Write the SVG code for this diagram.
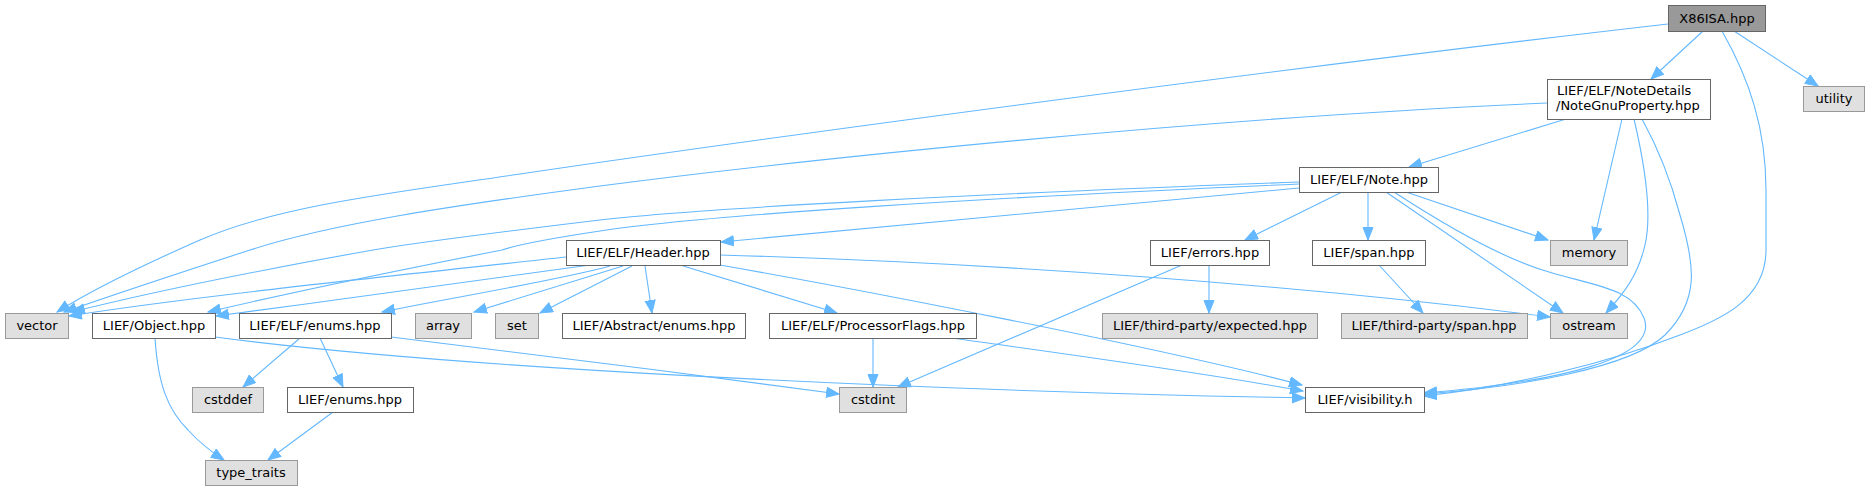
<svg xmlns="http://www.w3.org/2000/svg" width="1869" height="491" viewBox="0 0 1869 491">
<defs>
<style>
.n rect{fill:#ffffff;stroke:#666666;stroke-width:1}
.g rect{fill:#E0E0E0;stroke:#999999;stroke-width:1}
.r rect{fill:#999999;stroke:#666666;stroke-width:1}
text{font-family:"DejaVu Sans","Liberation Sans",sans-serif;font-size:13px;fill:#000000;text-anchor:middle}
text.l{text-anchor:start}
#edges path{fill:none;stroke:#63B8FF;stroke-width:1.1;marker-end:url(#arr)}
</style>
<marker id="arr" markerUnits="userSpaceOnUse" markerWidth="15" markerHeight="13" refX="13" refY="5.5" orient="auto"><path d="M0.5,0.5 L13,5.5 L0.5,10.5 z" fill="#63B8FF" stroke="#63B8FF" stroke-width="1"/></marker>
</defs>
<rect width="1869" height="491" fill="#ffffff"/>
<g id="edges">
<path d="M1703,31 L1651,79"/>
<path d="M1734,31 L1818,86"/>
<path d="M1722,31 C1750,80 1766,130 1766,190 L1766,250 C1766,300 1720,320 1680,335 C1610,362 1520,385 1424,396"/>
<path d="M1668,24 C1250,72 750,140 520,174 C400,192 280,205 200,240 C150,262 95,288 57,312"/>
<path d="M1566,119 L1409,167"/>
<path d="M1622,119 L1594,240"/>
<path d="M1634,119 C1646,170 1652,215 1645,245 C1638,275 1625,292 1606,313"/>
<path d="M1642,119 C1662,155 1672,185 1680,215 C1695,265 1700,300 1665,335 C1630,368 1520,387 1424,394"/>
<path d="M1547,103 C1200,118 800,160 600,186 C450,206 330,224 250,250 C170,276 110,296 64,312"/>
<path d="M1299,182 C1000,193 700,208 600,220 C500,232 420,242 373,250 C300,263 180,285 72,312"/>
<path d="M1299,184 C1000,197 700,215 600,231 C560,237 520,244 502,250 C400,270 280,295 208,312"/>
<path d="M1299,188 L721,242"/>
<path d="M1342,192 L1245,240"/>
<path d="M1368,192 L1368,240"/>
<path d="M1406,192 L1548,240"/>
<path d="M1386,192 L1563,313"/>
<path d="M1394,192 C1440,222 1500,258 1549,272 C1595,286 1632,288 1644,318 C1660,358 1560,382 1424,393"/>
<path d="M566,257 C450,270 200,295 69,316"/>
<path d="M590,265 C500,278 350,298 216,316"/>
<path d="M610,266 C560,280 450,298 382,312"/>
<path d="M623,266 L474,312"/>
<path d="M632,266 L540,313"/>
<path d="M645,266 L652,313"/>
<path d="M680,265 L837,313"/>
<path d="M720,265 C850,288 1150,345 1302,385"/>
<path d="M720,255 C1000,263 1300,285 1550,317"/>
<path d="M155,338 C158,385 168,410 188,430 C198,441 210,451 224,460"/>
<path d="M215,337 C450,368 900,390 1305,398"/>
<path d="M300,338 L243,387"/>
<path d="M320,338 L343,387"/>
<path d="M391,337 C500,350 700,375 839,394"/>
<path d="M333,412 L268,460"/>
<path d="M873,338 L873,387"/>
<path d="M952,338 C1050,352 1200,372 1303,391"/>
<path d="M1209,265 L1209,313"/>
<path d="M1182,265 L898,387"/>
<path d="M1379,265 L1423,313"/>
</g>
<g id="n_x86isa" class="r"><rect x="1668.5" y="5.5" width="97" height="26"/><text x="1717" y="23">X86ISA.hpp</text></g>
<g id="n_notegnu" class="n"><rect x="1547.5" y="79.5" width="163" height="40"/><text class="l" x="1557" y="95">LIEF/ELF/NoteDetails</text><text class="l" x="1556" y="110">/NoteGnuProperty.hpp</text></g>
<g id="n_utility" class="g"><rect x="1803.5" y="86.5" width="61" height="25"/><text x="1834" y="103">utility</text></g>
<g id="n_note" class="n"><rect x="1299.5" y="167.5" width="139" height="25"/><text x="1369" y="184">LIEF/ELF/Note.hpp</text></g>
<g id="n_header" class="n"><rect x="566.5" y="240.5" width="154" height="25"/><text x="643" y="257">LIEF/ELF/Header.hpp</text></g>
<g id="n_errors" class="n"><rect x="1150.5" y="240.5" width="119" height="25"/><text x="1210" y="257">LIEF/errors.hpp</text></g>
<g id="n_span" class="n"><rect x="1312.5" y="240.5" width="113" height="25"/><text x="1369" y="257">LIEF/span.hpp</text></g>
<g id="n_memory" class="g"><rect x="1550.5" y="240.5" width="77" height="25"/><text x="1589" y="257">memory</text></g>
<g id="n_vector" class="g"><rect x="5.5" y="313.5" width="63" height="25"/><text x="37" y="330">vector</text></g>
<g id="n_object" class="n"><rect x="92.5" y="313.5" width="123" height="25"/><text x="154" y="330">LIEF/Object.hpp</text></g>
<g id="n_elfenums" class="n"><rect x="239.5" y="313.5" width="152" height="25"/><text x="315" y="330">LIEF/ELF/enums.hpp</text></g>
<g id="n_array" class="g"><rect x="415.5" y="313.5" width="56" height="25"/><text x="443" y="330">array</text></g>
<g id="n_set" class="g"><rect x="495.5" y="313.5" width="43" height="25"/><text x="517" y="330">set</text></g>
<g id="n_absenums" class="n"><rect x="562.5" y="313.5" width="183" height="25"/><text x="654" y="330">LIEF/Abstract/enums.hpp</text></g>
<g id="n_procflags" class="n"><rect x="769.5" y="313.5" width="207" height="25"/><text x="873" y="330">LIEF/ELF/ProcessorFlags.hpp</text></g>
<g id="n_expected" class="g"><rect x="1102.5" y="313.5" width="215" height="25"/><text x="1210" y="330">LIEF/third-party/expected.hpp</text></g>
<g id="n_tpspan" class="g"><rect x="1341.5" y="313.5" width="186" height="25"/><text x="1434" y="330">LIEF/third-party/span.hpp</text></g>
<g id="n_ostream" class="g"><rect x="1550.5" y="313.5" width="77" height="25"/><text x="1589" y="330">ostream</text></g>
<g id="n_cstddef" class="g"><rect x="192.5" y="387.5" width="71" height="25"/><text x="228" y="404">cstddef</text></g>
<g id="n_liefenums" class="n"><rect x="287.5" y="387.5" width="126" height="25"/><text x="350" y="404">LIEF/enums.hpp</text></g>
<g id="n_cstdint" class="g"><rect x="839.5" y="387.5" width="67" height="25"/><text x="873" y="404">cstdint</text></g>
<g id="n_visibility" class="n"><rect x="1305.5" y="387.5" width="119" height="25"/><text x="1365" y="404">LIEF/visibility.h</text></g>
<g id="n_typetraits" class="g"><rect x="205.5" y="460.5" width="92" height="25"/><text x="251" y="477">type_traits</text></g>
</svg>
